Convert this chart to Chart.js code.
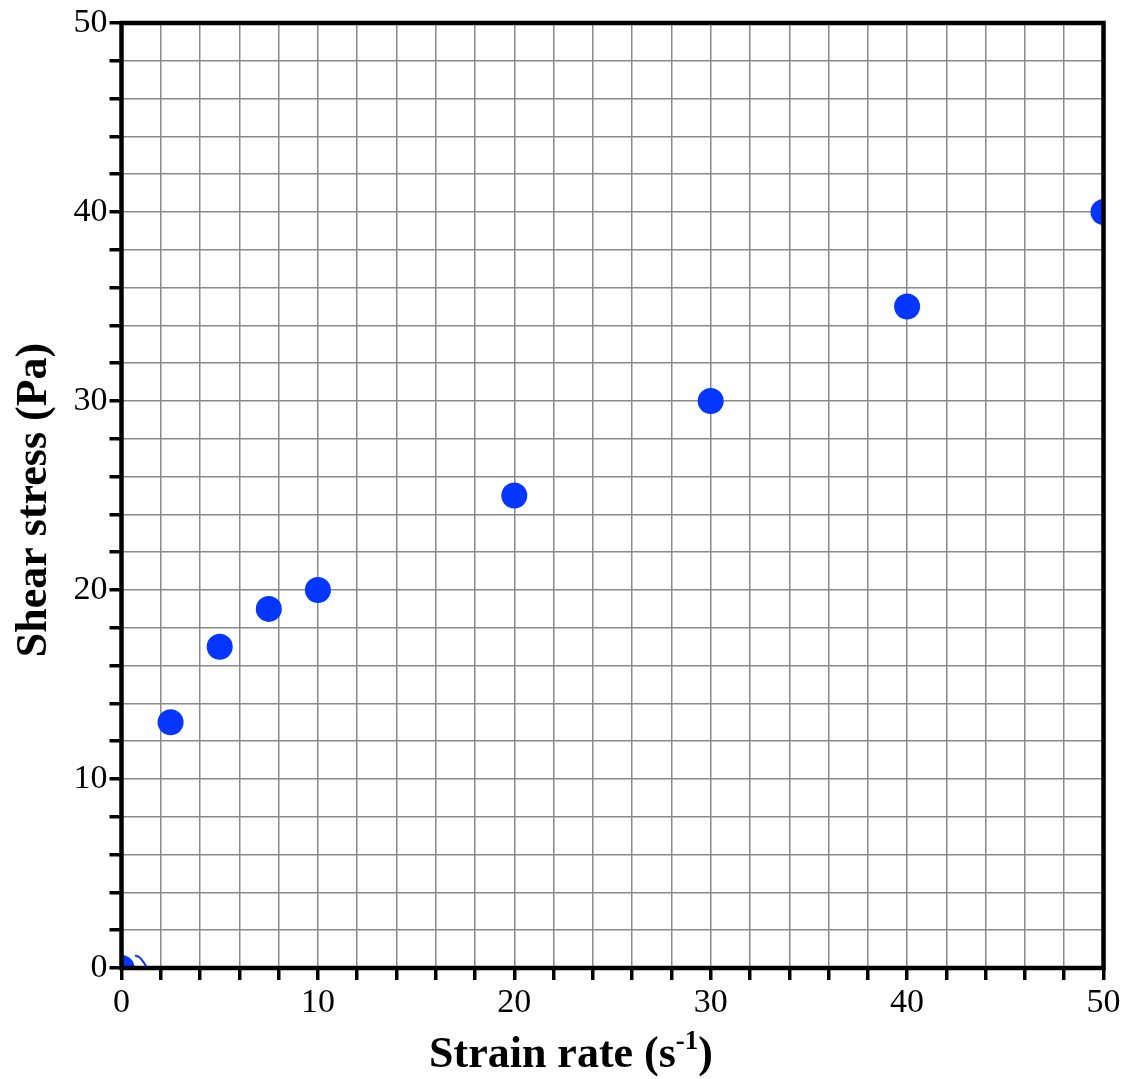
<!DOCTYPE html>
<html>
<head>
<meta charset="utf-8">
<script src="https://cdn.jsdelivr.net/npm/chart.js@4"></script>
<style>
html,body{margin:0;padding:0;background:#fff;}
#wrap{width:1133px;height:1079px;position:relative;}
</style>
</head>
<body>
<div id="wrap"><canvas id="c" width="1133" height="1079"></canvas></div>
<script>
// ---- data ----
const strainRate = [0, 2.5, 5, 7.5, 10, 20, 30, 40, 50];
const shearStress = [0, 13, 17, 19, 20, 25, 30, 35, 40];
// small stray blue arc near the origin
const arcStrainRate = [0.69, 0.89, 1.04, 1.17, 1.27];
const arcShearStress = [0.66, 0.58, 0.42, 0.24, 0.05];
const xTickLabels = [0, 10, 20, 30, 40, 50];
const yTickLabels = [0, 10, 20, 30, 40, 50];
const xTitle = 'Strain rate (s';
const xTitleSup = '-1';
const xTitleEnd = ')';
const yTitle = 'Shear stress (Pa)';

const FONT = "'Liberation Serif', 'Times New Roman', serif";
const BLUE = '#0536ff';

const framePlugin = {
  id: 'frame',
  afterDraw(chart) {
    const ctx = chart.ctx, a = chart.chartArea;
    ctx.save();
    ctx.strokeStyle = '#000';
    ctx.lineWidth = 4.5;
    ctx.strokeRect(a.left, a.top, a.right - a.left, a.bottom - a.top);
    // y title
    ctx.fillStyle = '#000';
    ctx.font = 'bold 44px ' + FONT;
    ctx.textAlign = 'center';
    ctx.textBaseline = 'alphabetic';
    ctx.translate(46, 500);
    ctx.rotate(-Math.PI / 2);
    ctx.fillText(yTitle, 0, 0);
    ctx.restore();
    // x title with superscript
    ctx.save();
    ctx.fillStyle = '#000';
    ctx.textBaseline = 'alphabetic';
    ctx.textAlign = 'left';
    const big = 'bold 44px ' + FONT, small = 'bold 27px ' + FONT;
    ctx.font = big; const w1 = ctx.measureText(xTitle).width; const w3 = ctx.measureText(xTitleEnd).width;
    ctx.font = small; const w2 = ctx.measureText(xTitleSup).width;
    const total = w1 + w2 + w3;
    let x = 571 - total / 2, base = 1067;
    ctx.font = big; ctx.fillText(xTitle, x, base); x += w1;
    ctx.font = small; ctx.fillText(xTitleSup, x, base - 18); x += w2;
    ctx.font = big; ctx.fillText(xTitleEnd, x, base);
    ctx.restore();
  }
};

new Chart(document.getElementById('c'), {
  type: 'scatter',
  data: {
    datasets: [
      {
        data: arcStrainRate.map((v, i) => ({x: v, y: arcShearStress[i]})),
        showLine: true,
        borderColor: BLUE,
        borderWidth: 2,
        tension: 0.4,
        pointRadius: 0,
        fill: false
      },
      {
        data: strainRate.map((v, i) => ({x: v, y: shearStress[i]})),
        pointStyle: 'circle',
        pointRadius: 13,
        pointBackgroundColor: BLUE,
        pointBorderColor: BLUE,
        pointBorderWidth: 0,
        showLine: false
      }
    ]
  },
  options: {
    responsive: false,
    animation: false,
    events: [],
    layout: { padding: { left: 0, top: 23, right: 29.5, bottom: 0 } },
    plugins: { legend: { display: false }, tooltip: { enabled: false } },
    scales: {
      x: {
        type: 'linear', min: 0, max: 50,
        afterFit(s) { s.height = 111; },
        border: { display: false },
        grid: { color: '#8a8a8a', lineWidth: 1.5, drawTicks: true, tickLength: 12, tickColor: '#000', tickWidth: 3.5 },
        ticks: {
          stepSize: 2, autoSkip: false, maxRotation: 0,
          color: '#000', font: { family: FONT, size: 34 }, padding: 3,
          callback: (v) => xTickLabels.includes(v) ? String(v) : ''
        }
      },
      y: {
        type: 'linear', min: 0, max: 50,
        afterFit(s) { s.width = 121.5; },
        border: { display: false },
        grid: { color: '#8a8a8a', lineWidth: 1.5, drawTicks: true, tickLength: 12, tickColor: '#000', tickWidth: 3.5 },
        ticks: {
          stepSize: 2, autoSkip: false,
          color: '#000', font: { family: FONT, size: 34 }, padding: 2,
          callback: (v) => yTickLabels.includes(v) ? String(v) : ''
        }
      }
    }
  },
  plugins: [framePlugin]
});
</script>
</body>
</html>
